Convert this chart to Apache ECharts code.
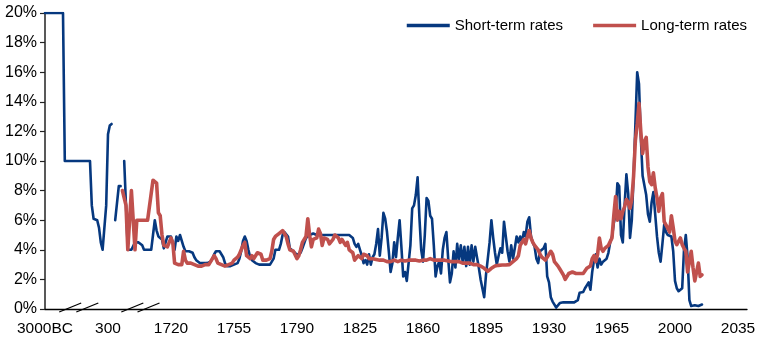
<!DOCTYPE html>
<html>
<head>
<meta charset="utf-8">
<script src="https://cdn.jsdelivr.net/npm/echarts@6/dist/echarts.min.js"></script>
<style>
  html, body { margin: 0; padding: 0; background: #fff; }
  #chart { width: 760px; height: 347px; }
</style>
</head>
<body>
<div id="chart"></div>
<script>
// Horizontal axis is an observation index: slots 0-69 hold the compressed
// ancient / medieval record, slot 70 onward is one slot per year from 1720.
const xTickLabels = ['3000BC', '300', '1720', '1755', '1790', '1825', '1860',
                     '1895', '1930', '1965', '2000', '2035'];
const yTickStep = 2;      // percent
const yMax = 20;
const axisSlots = 390;
const slotsPerLabel = 35;

// Positions (in slot units) of the "//" breaks drawn on the horizontal axis
const axisBreakSlots = [14, 23.5, 48.5, 57.5];

// Short-term rates, early record (slots 0-69, null = no observation)
const shortEarly = [
  20, 20, 20, 20, 20, 20, 20, 20, 20, 20, 20,
  10, 10, 10, 10, 10, 10, 10, 10, 10, 10, 10, 10, 10, 10, 10,
  7.0, 6.1, 6.0, 6.0, 5.5, 4.5, 4.0, 4.0, 7.0, 11.8, 12.4, 12.5,
  null, 6.0, 6.0, 8.3, 8.3,
  null, 10.0, 10.0, 4.0, 4.0, 4.0, 4.0, 4.5, 4.5, 4.5, 4.5, 4.3, 4.0,
  4.0, 4.0, 4.0, 4.0, 5.0, 6.0, 5.3, 4.9, 4.8, 4.7, 4.1, 4.1, 4.9, 5.0
];

// Short-term rates, annual from 1720
const shortAnnual = [
  4.9, 4.8, 4.0, 4.9, 4.6, 5.0, 4.9, 4.2, 3.9, 3.9,
  3.9, 3.9, 3.8, 3.5, 3.3, 3.2, 3.1, 3.1, 3.1, 3.1,
  3.1, 3.1, 3.2, 3.4, 3.7, 3.9, 3.9, 3.9, 3.8, 3.5,
  3.1, 2.9, 2.9, 2.9, 2.9, 3.0, 3.0, 3.1, 3.4, 3.9,
  4.6, 4.9, 4.6, 4.0, 3.5, 3.3, 3.2, 3.1, 3.0, 3.0,
  3.0, 3.0, 3.0, 3.0, 2.95, 3.0, 3.2, 3.4, 4.0, 4.0,
  4.0, 4.4, 5.0, 5.2, 5.2, 4.9, 4.1, 4.0, 3.9, 3.8,
  3.65, 3.7, 3.8, 4.1, 4.2, 4.8, 4.9, 5.0, 5.05, 5.1,
  5.1, 5.0, 5.0, 5.0, 5.0, 5.0, 5.0, 5.0, 5.0, 5.0,
  5.0, 5.0, 5.0, 5.0, 5.0, 5.0, 5.0, 5.0, 5.0, 5.0,
  4.9, 4.8, 4.4, 4.2, 4.4, 4.0, 3.6, 3.1, 3.3, 3.0,
  3.7, 3.0, 3.5, 3.7, 4.4, 5.4, 3.6, 4.8, 6.5, 6.1,
  5.2, 3.9, 2.5, 3.1, 4.5, 3.5, 4.8, 6.0, 4.2, 2.2,
  2.5, 1.9, 3.1, 4.3, 6.8, 7.0, 7.7, 8.9, 6.2, 4.0,
  3.2, 5.0, 7.5, 7.3, 6.3, 6.1, 4.3, 2.2, 2.9, 3.2,
  2.4, 4.0, 4.8, 5.2, 3.4, 1.8, 2.4, 3.9, 2.8, 4.4,
  3.3, 4.3, 3.2, 4.2, 2.9, 4.2, 3.0, 4.3, 3.2, 4.2,
  3.5, 2.8, 2.0, 2.1, 0.8, 2.3, 3.4, 4.5, 6.0, 4.8,
  3.8, 3.0, 3.6, 4.1, 3.8, 5.9, 5.8, 3.9, 3.2, 4.3,
  3.4, 4.1, 4.9, 4.5, 4.9, 4.5, 5.2, 4.9, 5.9, 6.2,
  4.9, 4.5, 4.2, 3.4, 3.1, 3.9, 4.0, 4.1, 4.4, 2.2,
  1.8, 0.8, 0.5, 0.4, 0.1, 0.2, 0.4, 0.45, 0.45, 0.45,
  0.45, 0.45, 0.45, 0.45, 0.45, 0.45, 0.6, 1.1, 1.15, 1.15,
  1.4, 1.6, 1.8, 1.3, 2.5, 3.3, 3.7, 2.8, 3.4, 3.0,
  3.2, 3.1, 3.4, 3.8, 4.5, 4.9, 5.8, 6.4, 8.5, 8.3,
  5.0, 4.5, 7.0, 9.1, 7.8, 4.8, 6.0, 9.0, 12.5, 16.0,
  15.2, 11.6, 9.0, 9.0, 7.7, 6.4, 5.9, 7.2, 7.9, 6.4,
  4.9, 3.8, 3.2, 4.4, 5.7, 5.2, 5.0, 5.0, 4.9, 3.9,
  1.9, 1.4, 1.2, 1.1, 1.4, 4.0, 5.0, 3.5, 0.6, 0.2,
  0.25, 0.25, 0.2, 0.2, 0.25, 0.3
];

// Long-term rates, early record (slots 0-69)
const longEarly = [
  null, null, null, null, null, null, null, null, null, null,
  null, null, null, null, null, null, null, null, null, null,
  null, null, null, null, null, null, null, null, null, null,
  null, null, null, null, null, null, null, null, null, null,
  null, null, null,
  8.0, 8.0, 7.0, 4.0, 6.0, 8.0, 6.0, 4.0,
  6.0, 6.0, 6.0, 6.0, 6.0, 6.0, 6.0, 6.0,
  7.8, 8.7, 8.8, 8.5, 6.5, 6.3, 5.0, 4.3, 4.2, 4.2, 4.5
];

// Long-term rates, annual from 1720
const longAnnual = [
  4.8, 4.5, 3.1, 3.0, 3.0, 3.0, 3.0, 3.9, 3.3, 3.1,
  3.1, 3.1, 3.0, 3.0, 3.0, 2.9, 2.9, 2.9, 2.9, 3.0,
  3.0, 3.0, 3.0, 3.4, 3.6, 3.4, 3.1, 3.0, 3.0, 2.9,
  2.9, 2.9, 3.0, 3.0, 3.1, 3.3, 3.4, 3.5, 3.7, 3.8,
  4.3, 4.5, 3.6, 3.5, 3.4, 3.6, 3.4, 3.5, 3.8, 3.8,
  3.7, 3.3, 3.3, 3.3, 3.35, 3.4, 3.9, 4.7, 4.9, 5.0,
  5.1, 5.2, 5.3, 5.3, 4.9, 4.4, 4.0, 3.95, 3.9, 3.65,
  3.4, 3.6, 4.0, 4.5, 4.6, 4.9, 6.1, 5.0, 4.2, 4.7,
  4.7, 4.8, 5.4, 5.1, 4.3, 4.8, 4.9, 4.7, 4.4, 4.4,
  4.7, 5.0, 5.0, 4.8, 4.5, 4.7, 4.6, 4.3, 4.5, 4.0,
  4.1, 3.8, 3.3, 3.4, 3.6, 3.7, 3.4, 3.7, 3.6, 3.6,
  3.4, 3.5, 3.4, 3.4, 3.35, 3.3, 3.3, 3.3, 3.3, 3.25,
  3.2, 3.2, 3.2, 3.25, 3.3, 3.25, 3.2, 3.25, 3.3, 3.2,
  3.25, 3.3, 3.3, 3.3, 3.3, 3.3, 3.3, 3.3, 3.25, 3.2,
  3.3, 3.3, 3.3, 3.35, 3.4, 3.3, 3.3, 3.3, 3.3, 3.3,
  3.3, 3.3, 3.3, 3.3, 3.25, 3.2, 3.2, 3.2, 3.2, 3.2,
  3.2, 3.15, 3.1, 3.1, 3.1, 3.1, 3.1, 3.1, 3.0, 3.0,
  3.0, 2.95, 2.9, 2.8, 2.75, 2.65, 2.55, 2.55, 2.75, 2.85,
  2.9, 2.95, 2.95, 2.97, 2.97, 2.97, 2.97, 2.97, 3.0, 3.1,
  3.2, 3.3, 3.4, 3.6, 4.3, 4.5, 4.7, 4.4, 4.9, 5.3,
  4.8, 4.5, 4.3, 4.2, 4.0, 3.7, 3.5, 3.4, 3.3, 3.4,
  3.7, 3.9, 3.7, 3.2, 3.1, 2.9, 2.7, 2.5, 2.3, 2.0,
  2.0, 2.4, 2.5, 2.5, 2.5, 2.4, 2.3, 2.4, 2.5, 2.4,
  2.3, 2.75, 2.7, 2.9, 3.4, 3.6, 3.2, 3.7, 4.8, 4.1,
  3.9, 4.1, 4.1, 4.3, 4.55, 4.8, 6.3, 7.6, 6.0, 6.6,
  6.1, 6.6, 6.9, 7.4, 7.2, 6.8, 7.4, 9.0, 11.4, 12.5,
  13.9, 12.0, 10.5, 11.3, 11.6, 9.6, 8.6, 8.4, 9.2, 8.2,
  7.5, 6.6, 7.5, 7.8, 5.9, 5.9, 5.45, 5.2, 6.3, 5.5,
  4.6, 4.35, 4.35, 4.8, 4.35, 4.1, 3.9, 2.5, 3.2, 3.9,
  2.8, 1.9, 2.5, 3.1, 2.2, 2.3
];

const shortRates = shortEarly.concat(shortAnnual);
const longRates = longEarly.concat(longAnnual);
const toPoints = arr => arr.map((v, i) => [i, v === null ? '-' : v]);

const FONT = "'Liberation Sans', Arial, sans-serif";
const BLUE = '#06387F';
const RED = '#C0504D';

const chart = echarts.init(document.getElementById('chart'), null, { renderer: 'canvas' });

chart.setOption({
  animation: false,
  backgroundColor: '#fff',
  grid: { left: 45, right: 13, top: 13, bottom: 38, containLabel: false },
  legend: {
    right: 8,
    top: 13,
    itemWidth: 43,
    itemHeight: 3.5,
    itemGap: 30,
    textStyle: { fontFamily: FONT, fontSize: 15, color: '#000' },
    data: [
      { name: 'Short-term rates', icon: 'rect' },
      { name: 'Long-term rates', icon: 'rect' }
    ]
  },
  xAxis: {
    type: 'value',
    min: 0,
    max: axisSlots,
    interval: slotsPerLabel,
    splitLine: { show: false },
    axisTick: { show: false },
    axisLine: { lineStyle: { color: '#000', width: 1.3 } },
    axisLabel: {
      margin: 12,
      fontFamily: FONT,
      fontSize: 15.5,
      color: '#000',
      showMaxLabel: false,
      formatter: v => (v % slotsPerLabel === 0 ? (xTickLabels[v / slotsPerLabel] || '') : '')
    }
  },
  yAxis: {
    type: 'value',
    min: 0,
    max: yMax,
    interval: yTickStep,
    splitLine: { show: false },
    axisLine: { show: true, lineStyle: { color: '#222', width: 1.5 } },
    axisTick: { show: true, length: 5, lineStyle: { color: '#222', width: 1.2 } },
    axisLabel: {
      margin: 8,
      fontFamily: FONT,
      fontSize: 16,
      color: '#000',
      formatter: v => v + '%'
    }
  },
  series: [
    {
      name: 'Short-term rates',
      type: 'line',
      data: toPoints(shortRates),
      showSymbol: false,
      symbol: 'none',
      connectNulls: false,
      lineStyle: { color: BLUE, width: 2.6, join: 'round', cap: 'round' },
      itemStyle: { color: BLUE }
    },
    {
      name: 'Long-term rates',
      type: 'line',
      data: toPoints(longRates),
      showSymbol: false,
      symbol: 'none',
      connectNulls: false,
      lineStyle: { color: RED, width: 3.6, join: 'round', cap: 'round' },
      itemStyle: { color: RED }
    }
  ]
});

// Draw the axis-break slashes at their slot positions on the horizontal axis
function drawBreaks() {
  const elements = axisBreakSlots.map(s => {
    const p = chart.convertToPixel({ gridIndex: 0 }, [s, 0]);
    const cx = p[0], cy = p[1] - 1.5;
    return {
      type: 'line',
      shape: { x1: cx - 11, y1: cy + 4.5, x2: cx + 11, y2: cy - 4.5 },
      style: { stroke: '#000', lineWidth: 1.3 },
      z: 10
    };
  });
  chart.setOption({ graphic: elements });
}
drawBreaks();
</script>
</body>
</html>
